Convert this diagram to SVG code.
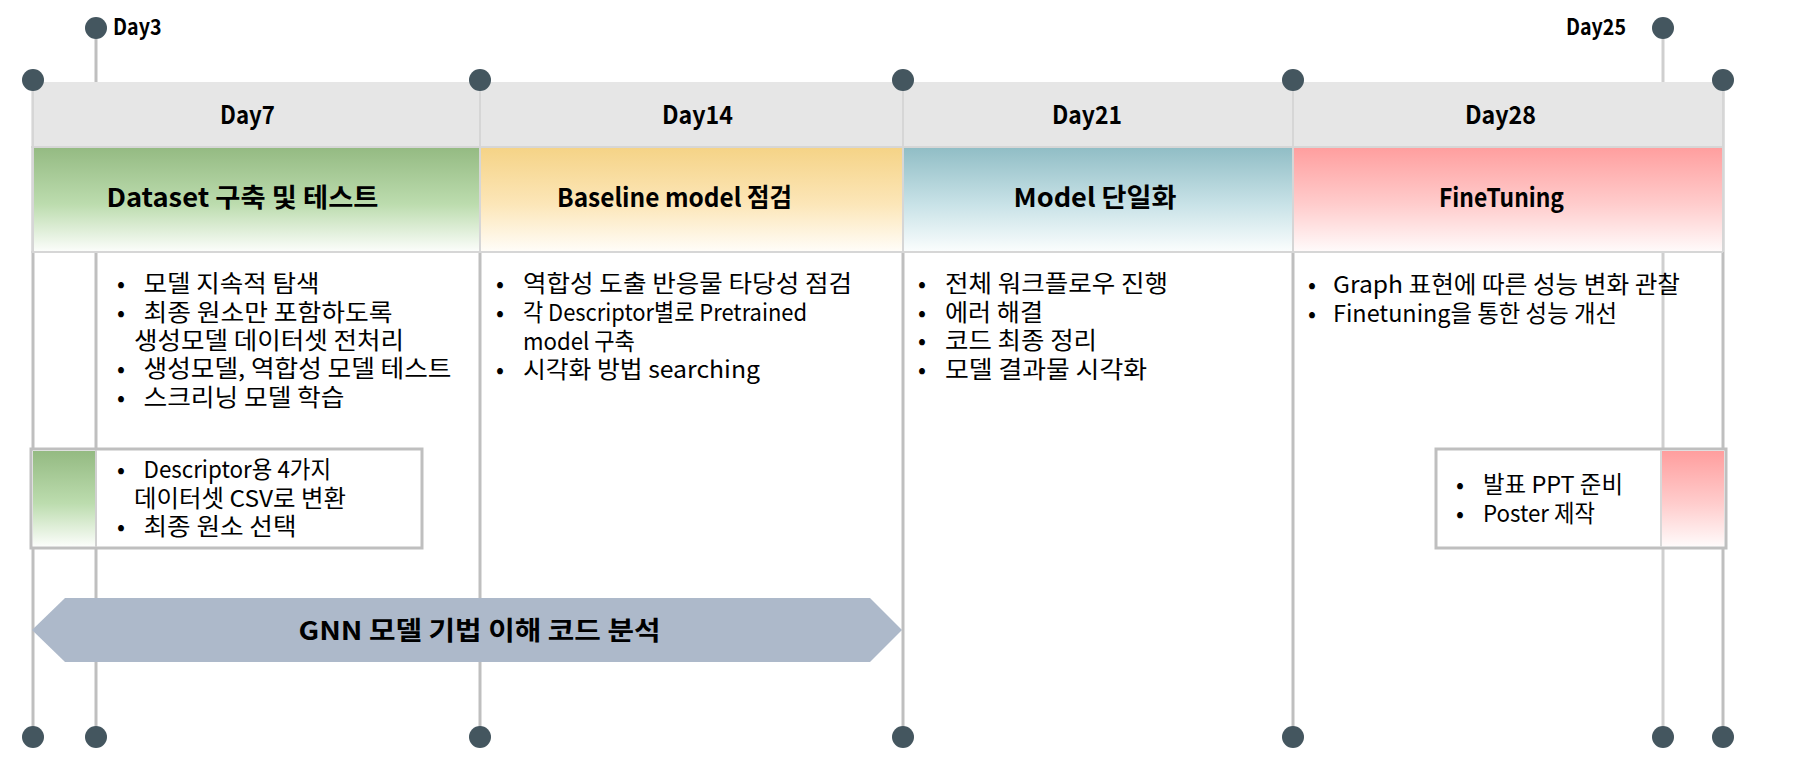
<svg xmlns="http://www.w3.org/2000/svg" width="1796" height="770" viewBox="0 0 1796 770">
<defs>
<linearGradient id="gGreen" x1="0" y1="0" x2="0" y2="1"><stop offset="0" stop-color="#94ba82"/><stop offset="0.55" stop-color="#bcdcae"/><stop offset="1" stop-color="#fbfdfa"/></linearGradient>
<linearGradient id="gYellow" x1="0" y1="0" x2="0" y2="1"><stop offset="0" stop-color="#f5d386"/><stop offset="0.55" stop-color="#fce6b8"/><stop offset="1" stop-color="#fffdf8"/></linearGradient>
<linearGradient id="gTeal" x1="0" y1="0" x2="0" y2="1"><stop offset="0" stop-color="#90bdc5"/><stop offset="0.55" stop-color="#c8e2e7"/><stop offset="1" stop-color="#fafdfd"/></linearGradient>
<linearGradient id="gPink" x1="0" y1="0" x2="0" y2="1"><stop offset="0" stop-color="#ff9e9e"/><stop offset="0.55" stop-color="#ffcccc"/><stop offset="1" stop-color="#fffafa"/></linearGradient>
</defs>
<style>
.vline{stroke:#bfbfbf;stroke-width:3;fill:none}
.vlight{stroke:#cfcfcf;stroke-width:3;fill:none}
.dot{fill:#44565f}
.sep{stroke:#d6d6d6;stroke-width:2;fill:none}
text{font-family:"Noto Sans CJK KR",sans-serif;fill:#000}
.day{font-weight:700;font-size:25px}
.tick{font-weight:700;font-size:22px}
.title{font-weight:700;font-size:26px}
.body{font-size:23.5px}
.bul{text-anchor:middle}
.box{fill:#fff;stroke:#bfbfbf;stroke-width:3}
.arrowtxt{font-weight:700;font-size:26px}
</style>
<rect width="1796" height="770" fill="#fff"/>

<g id="connectors">
<line class="vline" x1="33" y1="80" x2="33" y2="737"/>
<line class="vline" x1="96" y1="28" x2="96" y2="737"/>
<line class="vline" x1="480" y1="80" x2="480" y2="737"/>
<line class="vline" x1="903" y1="80" x2="903" y2="737"/>
<line class="vline" x1="1293" y1="80" x2="1293" y2="737"/>
<line class="vlight" x1="1663" y1="28" x2="1663" y2="737"/>
<line class="vline" x1="1723" y1="80" x2="1723" y2="737"/>
</g>

<g id="header-band">
<rect x="31" y="82" width="1692" height="65" fill="#e6e6e6"/>
<rect x="33" y="147" width="446" height="104" fill="url(#gGreen)"/>
<rect x="481" y="147" width="421" height="104" fill="url(#gYellow)"/>
<rect x="904" y="147" width="388" height="104" fill="url(#gTeal)"/>
<rect x="1294" y="147" width="429" height="104" fill="url(#gPink)"/>
<line class="sep" x1="31" y1="147" x2="1723" y2="147"/>
<line class="sep" x1="31" y1="252" x2="1723" y2="252"/>
<line class="sep" x1="33" y1="82" x2="33" y2="252"/>
<line class="sep" x1="480" y1="82" x2="480" y2="252"/>
<line class="sep" x1="903" y1="82" x2="903" y2="252"/>
<line class="sep" x1="1293" y1="82" x2="1293" y2="252"/>
<line class="sep" x1="1723" y1="82" x2="1723" y2="252"/>
</g>

<g id="tick-day3"><text class="tick" x="113" y="35" textLength="48.5" lengthAdjust="spacingAndGlyphs">Day3</text></g>
<g id="tick-day25"><text class="tick" x="1566" y="35" textLength="60" lengthAdjust="spacingAndGlyphs">Day25</text></g>

<g id="col-day7">
<text class="day" x="220" y="123.5" textLength="55" lengthAdjust="spacingAndGlyphs">Day7</text>
<text class="title" x="106.5" y="207" textLength="272" lengthAdjust="spacingAndGlyphs">Dataset 구축 및 테스트</text>
<g class="body">
<text class="bul" x="121" y="292">•</text><text x="143.5" y="292" textLength="176" lengthAdjust="spacingAndGlyphs">모델 지속적 탐색</text>
<text class="bul" x="121" y="321">•</text><text x="143.5" y="321" textLength="249" lengthAdjust="spacingAndGlyphs">최종 원소만 포함하도록</text>
<text x="134" y="349" textLength="270" lengthAdjust="spacingAndGlyphs">생성모델 데이터셋 전처리</text>
<text class="bul" x="121" y="377">•</text><text x="143.5" y="377" textLength="308" lengthAdjust="spacingAndGlyphs">생성모델, 역합성 모델 테스트</text>
<text class="bul" x="121" y="406">•</text><text x="143.5" y="406" textLength="201" lengthAdjust="spacingAndGlyphs">스크리닝 모델 학습</text>
</g>
</g>

<g id="col-day14">
<text class="day" x="662" y="123.5" textLength="71" lengthAdjust="spacingAndGlyphs">Day14</text>
<text class="title" x="557" y="207" textLength="235" lengthAdjust="spacingAndGlyphs">Baseline model 점검</text>
<g class="body">
<text class="bul" x="500" y="292">•</text><text x="523" y="292" textLength="329" lengthAdjust="spacingAndGlyphs">역합성 도출 반응물 타당성 점검</text>
<text class="bul" x="500" y="321">•</text><text x="523" y="321" textLength="284" lengthAdjust="spacingAndGlyphs">각 Descriptor별로 Pretrained</text>
<text x="523" y="350" textLength="112" lengthAdjust="spacingAndGlyphs">model 구축</text>
<text class="bul" x="500" y="378">•</text><text x="523" y="378" textLength="237" lengthAdjust="spacingAndGlyphs">시각화 방법 searching</text>
</g>
</g>

<g id="col-day21">
<text class="day" x="1052" y="123.5" textLength="70" lengthAdjust="spacingAndGlyphs">Day21</text>
<text class="title" x="1013.5" y="207" textLength="163" lengthAdjust="spacingAndGlyphs">Model 단일화</text>
<g class="body">
<text class="bul" x="922" y="292">•</text><text x="945" y="292" textLength="223" lengthAdjust="spacingAndGlyphs">전체 워크플로우 진행</text>
<text class="bul" x="922" y="321">•</text><text x="945" y="321" textLength="98" lengthAdjust="spacingAndGlyphs">에러 해결</text>
<text class="bul" x="922" y="349">•</text><text x="945" y="349" textLength="152" lengthAdjust="spacingAndGlyphs">코드 최종 정리</text>
<text class="bul" x="922" y="378">•</text><text x="945" y="378" textLength="202" lengthAdjust="spacingAndGlyphs">모델 결과물 시각화</text>
</g>
</g>

<g id="col-day28">
<text class="day" x="1465" y="123.5" textLength="71" lengthAdjust="spacingAndGlyphs">Day28</text>
<text class="title" x="1439" y="207" textLength="125" lengthAdjust="spacingAndGlyphs">FineTuning</text>
<g class="body">
<text class="bul" x="1312" y="293">•</text><text x="1333" y="293" textLength="347" lengthAdjust="spacingAndGlyphs">Graph 표현에 따른 성능 변화 관찰</text>
<text class="bul" x="1312" y="322">•</text><text x="1333" y="322" textLength="284" lengthAdjust="spacingAndGlyphs">Finetuning을 통한 성능 개선</text>
</g>
</g>

<g id="box-descriptor">
<rect class="box" x="31" y="449" width="391" height="99"/>
<rect x="33" y="451" width="62" height="95" fill="url(#gGreen)"/>
<line x1="96" y1="450" x2="96" y2="547" stroke="#d0d0d0" stroke-width="2"/>
<g class="body">
<text class="bul" x="121" y="478">•</text><text x="143.5" y="478" textLength="187.5" lengthAdjust="spacingAndGlyphs">Descriptor용 4가지</text>
<text x="134" y="507" textLength="212" lengthAdjust="spacingAndGlyphs">데이터셋 CSV로 변환</text>
<text class="bul" x="121" y="535">•</text><text x="143.5" y="535" textLength="153" lengthAdjust="spacingAndGlyphs">최종 원소 선택</text>
</g>
</g>

<g id="box-presentation">
<rect class="box" x="1436" y="449" width="290" height="99"/>
<rect x="1662" y="451" width="62" height="95" fill="url(#gPink)"/>
<line x1="1661" y1="450" x2="1661" y2="547" stroke="#d8d8d8" stroke-width="2"/>
<g class="body">
<text class="bul" x="1460" y="493">•</text><text x="1483" y="493" textLength="140" lengthAdjust="spacingAndGlyphs">발표 PPT 준비</text>
<text class="bul" x="1460" y="522">•</text><text x="1483" y="522" textLength="112" lengthAdjust="spacingAndGlyphs">Poster 제작</text>
</g>
</g>

<g id="gnn-arrow">
<polygon points="32,630 65,598 870,598 902,630 870,662 65,662" fill="#adb9ca"/>
<text class="arrowtxt" x="298.5" y="640" textLength="362" lengthAdjust="spacingAndGlyphs">GNN 모델 기법 이해 코드 분석</text>
</g>

<g id="dots">
<circle class="dot" cx="96" cy="28" r="11"/>
<circle class="dot" cx="1663" cy="28" r="11"/>
<circle class="dot" cx="33" cy="80" r="11"/>
<circle class="dot" cx="480" cy="80" r="11"/>
<circle class="dot" cx="903" cy="80" r="11"/>
<circle class="dot" cx="1293" cy="80" r="11"/>
<circle class="dot" cx="1723" cy="80" r="11"/>
<circle class="dot" cx="33" cy="737" r="11"/>
<circle class="dot" cx="96" cy="737" r="11"/>
<circle class="dot" cx="480" cy="737" r="11"/>
<circle class="dot" cx="903" cy="737" r="11"/>
<circle class="dot" cx="1293" cy="737" r="11"/>
<circle class="dot" cx="1663" cy="737" r="11"/>
<circle class="dot" cx="1723" cy="737" r="11"/>
</g>
</svg>
